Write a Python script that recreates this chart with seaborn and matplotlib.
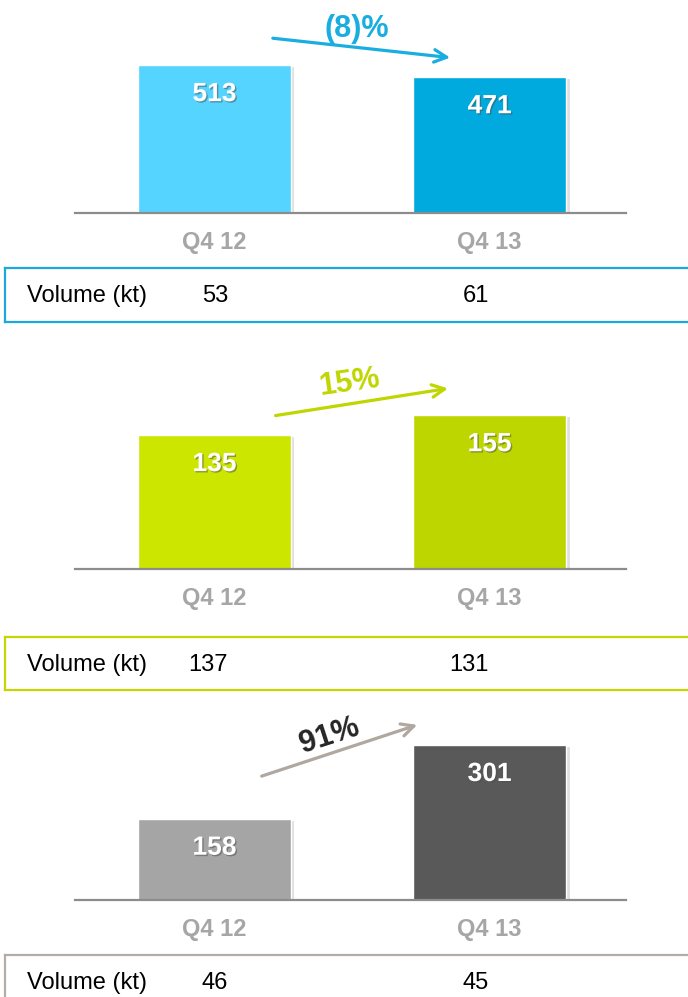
import matplotlib
matplotlib.use("Agg")
import matplotlib.pyplot as plt
import matplotlib.patheffects as pe
import seaborn as sns

# data
periods = ["Q4 12", "Q4 13"]
sales_1 = [513, 471]
sales_2 = [135, 155]
sales_3 = [158, 301]
volume_1 = [53, 61]
volume_2 = [137, 131]
volume_3 = [46, 45]
change_labels = ["(8)%", "15%", "91%"]

sns.set_style("white")
plt.rcParams["font.family"] = ["Liberation Sans", "DejaVu Sans"]

W, H = 688, 997
fig = plt.figure(figsize=(W / 100, H / 100), dpi=100)


def px_rect(x0, y0, x1, y1):
    # pixel box (top-left origin) -> figure fraction
    return [x0 / W, 1 - y1 / H, (x1 - x0) / W, (y1 - y0) / H]


panels = [
    dict(vals=sales_1, vol=volume_1, pct=change_labels[0],
         colors=["#55d4ff", "#00aadf"], arrow="#1aaee0", pct_color="#1aaee0",
         border="#1ca8dd", ax=(75, 0, 626, 213), ymax=738, box=(5, 268, 720, 322),
         a0=(0.354, 0.822), a1=(0.686, 0.728), t=(0.512, 0.865), rot=0),
    dict(vals=sales_2, vol=volume_2, pct=change_labels[1],
         colors=["#cce600", "#bed600"], arrow="#bfd600", pct_color="#bfd600",
         border="#c4d600", ax=(75, 360, 626, 569), ymax=210.4, box=(5, 637, 720, 690),
         a0=(0.359, 0.732), a1=(0.682, 0.866), t=(0.497, 0.89), rot=8),
    dict(vals=sales_3, vol=volume_3, pct=change_labels[2],
         colors=["#a5a5a5", "#595959"], arrow="#b0a8a0", pct_color="#262626",
         border="#b5aca5", ax=(75, 700, 626, 900), ymax=388, box=(5, 955, 720, 1020),
         a0=(0.334, 0.615), a1=(0.626, 0.88), t=(0.462, 0.82), rot=18),
]

for p in panels:
    ax = fig.add_axes(px_rect(*p["ax"]))
    sns.barplot(x=periods, y=p["vals"], hue=periods, palette=p["colors"],
                legend=False, width=0.556, saturation=1, ax=ax)
    for bar in ax.patches:
        bar.set_path_effects([pe.SimplePatchShadow(offset=(2.5, -1.5), alpha=0.18,
                                                   shadow_rgbFace="#555555"),
                              pe.Normal()])
    ax.set_xlim(-0.507, 1.496)
    ax.set_ylim(0, p["ymax"])
    ax.set_yticks([])
    ax.set_ylabel("")
    for s in ["top", "left", "right"]:
        ax.spines[s].set_visible(False)
    ax.spines["bottom"].set_color("#8c8c8c")
    ax.spines["bottom"].set_linewidth(1.6)
    ax.tick_params(axis="x", length=0, pad=13, labelsize=17, labelcolor="#a6a6a6")
    for lab in ax.get_xticklabels():
        lab.set_fontweight("bold")

    for i, v in enumerate(p["vals"]):
        ax.annotate(str(v), xy=(i, v), xytext=(0, -21), textcoords="offset points",
                    ha="center", va="center", fontsize=19, fontweight="bold", color="white",
                    path_effects=[pe.withSimplePatchShadow(offset=(1, -1), alpha=0.5)])

    ax.annotate("", xy=p["a1"], xytext=p["a0"], xycoords="axes fraction",
                textcoords="axes fraction",
                arrowprops=dict(arrowstyle="->,head_length=0.9,head_width=0.45",
                                color=p["arrow"], lw=2.3))
    ax.text(p["t"][0], p["t"][1], p["pct"], transform=ax.transAxes, ha="center",
            va="center", rotation=p["rot"], fontsize=22, fontweight="bold",
            color=p["pct_color"])

    # volume box
    bx = fig.add_axes(px_rect(*p["box"]))
    bx.set_xticks([])
    bx.set_yticks([])
    bx.set_xlim(p["box"][0], p["box"][2])
    for s in bx.spines.values():
        s.set_color(p["border"])
        s.set_linewidth(1.6)
    box_h = p["box"][3] - p["box"][1]
    yc = 1 - 28 / box_h
    bx.text(27, yc, "Volume (kt)", transform=bx.get_xaxis_transform(),
            ha="left", va="center", fontsize=17, color="black")
    for xr, v in zip([228, 489], p["vol"]):
        bx.text(xr, yc, str(v), transform=bx.get_xaxis_transform(),
                ha="right", va="center", fontsize=17, color="black")

fig.savefig("out.png", dpi=100)
